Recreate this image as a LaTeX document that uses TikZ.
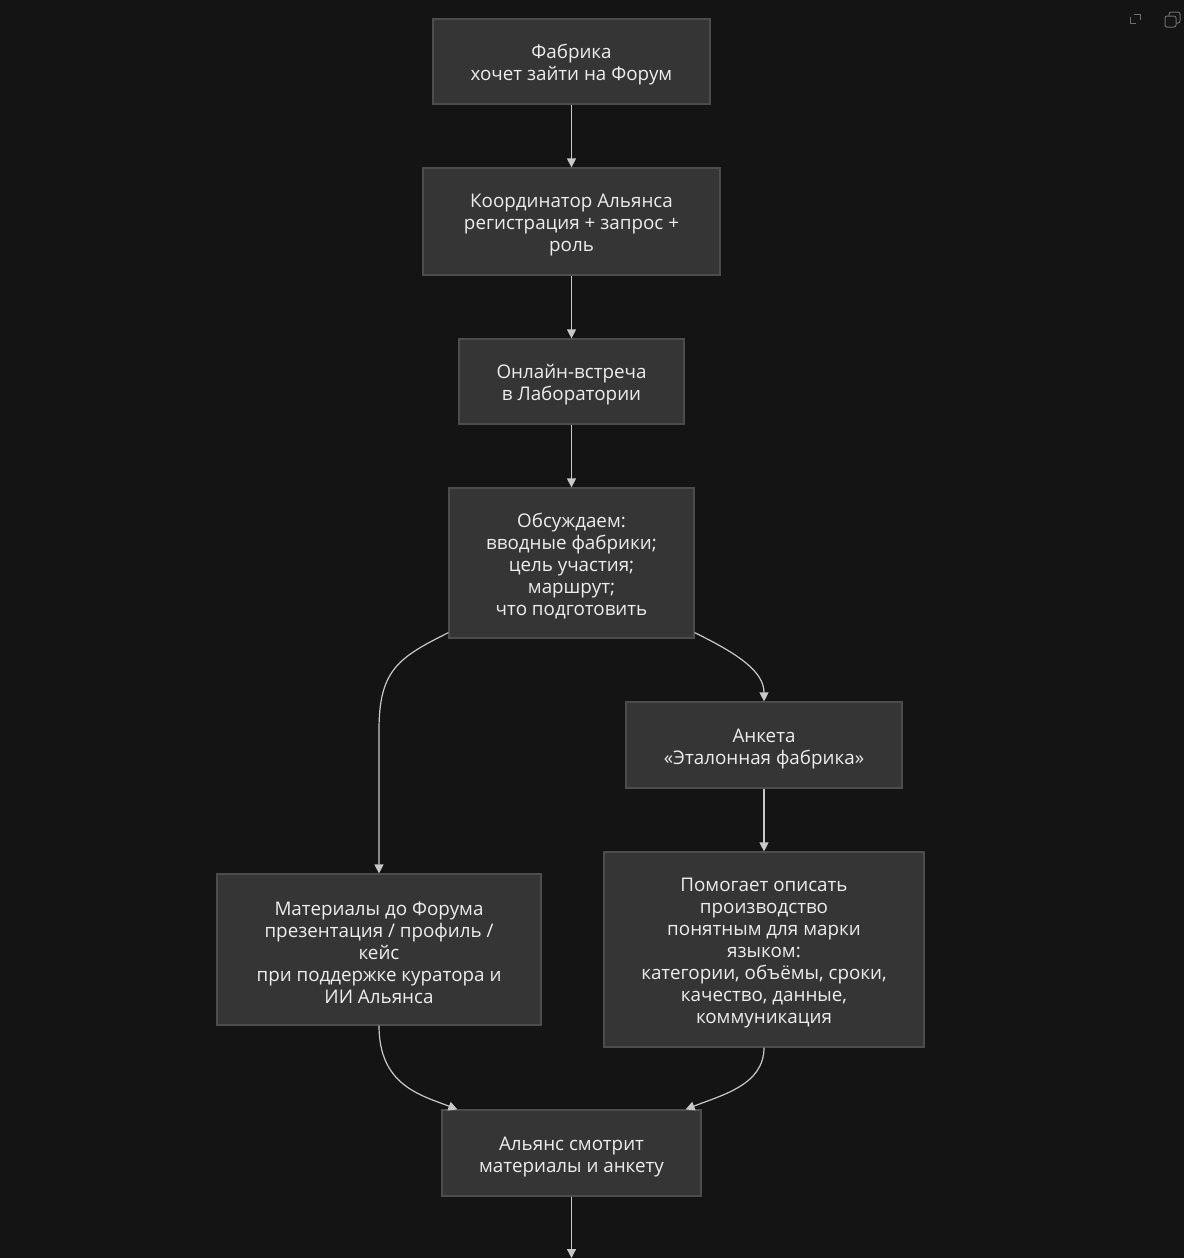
\documentclass[tikz,border=0pt]{standalone}
\usepackage{fontspec}
\setmainfont{Open Sans}
\usetikzlibrary{arrows.meta}
\definecolor{bg}{HTML}{141414}
\definecolor{boxfill}{HTML}{353535}
\definecolor{boxline}{HTML}{4C4C4C}
\definecolor{txt}{HTML}{EDEDED}
\definecolor{edge}{HTML}{C8C8C8}
\definecolor{icon}{HTML}{6E6E6E}
\newcommand{\topstrut}{\rule{0pt}{20.5pt}}
\tikzset{
  box/.style={draw=boxline, line width=1.2pt, fill=boxfill, text=txt, align=center,
    inner sep=0pt, font=\fontsize{18.8}{22}\selectfont},
  flow/.style={draw=edge, line width=1.2pt, -{Triangle[length=9pt,width=9pt]}},
}
\begin{document}
\begin{tikzpicture}[x=1pt,y=-1pt]
\fill[bg] (0,0) rectangle (1184,1258);
\useasboundingbox (0,0) rectangle (1184,1258);
% icons
\draw[icon, line width=1pt] (1130,17) -- (1130,23) -- (1136,23);
\draw[icon, line width=1pt] (1134,14) -- (1140,14) -- (1140,20);
\draw[icon, line width=1pt, rounded corners=2pt] (1169,12) rectangle (1180,23);
\draw[icon, line width=1pt, rounded corners=2pt, fill=bg] (1165,16) rectangle (1176,27);

\node[box, minimum width=277pt, minimum height=85pt] (n1) at (571.5,61.5) {\topstrut Фабрика\\хочет зайти на Форум};
\node[box, minimum width=297pt, minimum height=107pt] (n2) at (571.5,221.5) {\topstrut Координатор Альянса\\регистрация + запрос +\\роль};
\node[box, minimum width=225pt, minimum height=85pt] (n3) at (571.5,381.5) {\topstrut Онлайн-встреча\\в Лаборатории};
\node[box, minimum width=245pt, minimum height=150pt] (n4) at (571.5,563) {\topstrut Обсуждаем:\\вводные фабрики;\\цель участия;\\маршрут;\\что подготовить};
\node[box, minimum width=276pt, minimum height=86pt] (n5) at (764,745) {\topstrut Анкета\\«Эталонная фабрика»};
\node[box, minimum width=320pt, minimum height=195pt] (n6) at (764,949.5) {\topstrut Помогает описать\\производство\\понятным для марки\\языком:\\категории, объёмы, сроки,\\качество, данные,\\коммуникация};
\node[box, minimum width=324pt, minimum height=151pt] (n7) at (379,949.5) {\topstrut Материалы до Форума\\презентация / профиль /\\кейс\\при поддержке куратора и\\ИИ Альянса};
\node[box, minimum width=259pt, minimum height=86pt] (n8) at (571.5,1153) {\topstrut Альянс смотрит\\материалы и анкету};
\coordinate (end) at (571.5,1258);

\draw[flow] (n1.south) -- (n2.north);
\draw[flow] (n2.south) -- (n3.north);
\draw[flow] (n3.south) -- (n4.north);
\draw[flow] ([yshift=6pt]n4.south west) .. controls +(-50,25) and (379,670) .. (379,730) -- (n7.north -| 379,0);
\draw[flow] ([yshift=6pt]n4.south east) .. controls +(45,22) and (764,672) .. (n5.north);
\draw[flow] (n5.south) -- (n6.north);
\draw[flow] (n7.south) .. controls (379,1085) and (420,1095) .. ([xshift=16pt]n8.north west);
\draw[flow] (n6.south) .. controls (764,1085) and (722,1095) .. ([xshift=-16pt]n8.north east);
\draw[flow] (n8.south) -- (end);
\end{tikzpicture}
\end{document}
